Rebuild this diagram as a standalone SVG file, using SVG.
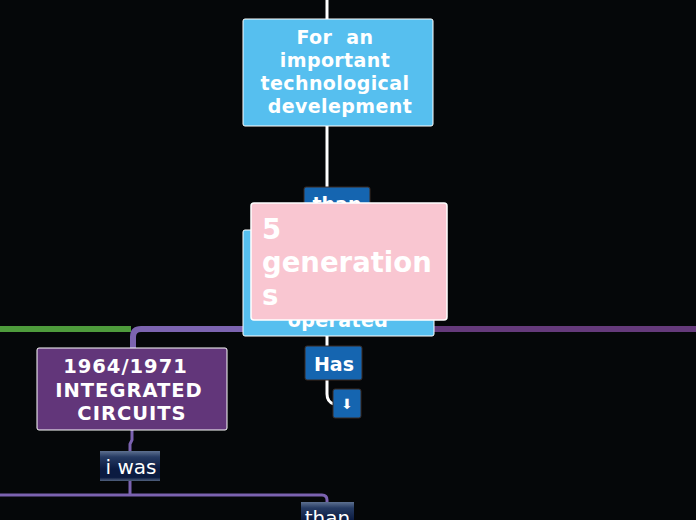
<svg xmlns="http://www.w3.org/2000/svg" width="696" height="520" viewBox="0 0 696 520">
<defs>
<linearGradient id="gl" x1="0" y1="0" x2="0" y2="1">
<stop offset="0" stop-color="#5d7090"/>
<stop offset="0.2" stop-color="#263b63"/>
<stop offset="0.6" stop-color="#0b1b41"/>
<stop offset="0.88" stop-color="#0b1b41"/>
<stop offset="1" stop-color="#52627f"/>
</linearGradient>
<style>
.b{font-family:"DejaVu Sans",Verdana,sans-serif;font-weight:bold;fill:#fff;}
.r{font-family:"DejaVu Sans",Verdana,sans-serif;fill:#fff;}
.wl{fill:none;stroke:#fff;stroke-width:3;}
.pl{fill:none;stroke:#7b62b0;stroke-width:3;}
.dk{fill:#1565b0;stroke:#3a2a22;stroke-width:1;}
</style>
</defs>
<rect width="696" height="520" fill="#050709"/>
<g id="connectors">
<path class="wl" d="M327 0V19"/>
<path class="wl" d="M327 126V187"/>
<path class="wl" d="M327 336V346"/>
<path class="wl" d="M327 380V394Q327 402 334 404"/>
<path d="M0 329H131" stroke="#4e9b3c" stroke-width="6" fill="none"/>
<path d="M243 329H141Q133 329 133 337V348" stroke="#7c64b0" stroke-width="6" fill="none"/>
<path d="M434 329H696" stroke="#653a7b" stroke-width="6" fill="none"/>
<path class="pl" d="M132 430V440L130 444V452"/>
<path class="pl" d="M130 481V495"/>
<path class="pl" d="M0 495H322Q327 495 327 500V503"/>
</g>
<g id="n-title">
<rect x="243" y="19" width="190" height="107" rx="2" fill="#56bfef" stroke="#fff" stroke-width="1"/>
<text class="b" font-size="19" letter-spacing="0.4" text-anchor="middle" xml:space="preserve"><tspan x="335" y="44">For  an</tspan><tspan x="335" y="67">important</tspan><tspan x="335" y="90">technological</tspan><tspan x="340" y="113">develepment</tspan></text>
</g>
<g id="n-than1">
<rect class="dk" x="304" y="187" width="66" height="34" rx="2"/>
<text class="b" font-size="19" text-anchor="middle" x="337" y="211">than</text>
</g>
<g id="n-operated">
<rect x="243" y="230" width="191" height="106" rx="2" fill="#56bfef" stroke="#fff" stroke-width="1"/>
<text class="b" font-size="19" letter-spacing="0.4" text-anchor="middle" x="338" y="327">operated</text>
</g>
<g id="n-5gen">
<rect x="251" y="203" width="196" height="117" rx="3" fill="#f9c6d1" stroke="#fff" stroke-width="1.5"/>
<text class="b" font-size="27.5"><tspan x="262" y="239">5</tspan><tspan x="262" y="272">generation</tspan><tspan x="262" y="305">s</tspan></text>
</g>
<g id="n-has">
<rect class="dk" x="305" y="346" width="57" height="34" rx="2"/>
<text class="b" font-size="19" text-anchor="middle" x="334" y="371">Has</text>
</g>
<g id="n-arrow">
<rect class="dk" x="333" y="389" width="28" height="29" rx="2"/>
<text class="r" font-size="14" text-anchor="middle" x="347" y="409">⬇</text>
</g>
<g id="n-ic">
<rect x="37" y="348" width="190" height="82" rx="2" fill="#62367a" stroke="#fff" stroke-width="1"/>
<text class="b" font-size="19.5" letter-spacing="1" text-anchor="middle"><tspan x="125.5" y="373">1964/1971</tspan><tspan x="129" y="397">INTEGRATED</tspan><tspan x="132" y="420">CIRCUITS</tspan></text>
</g>
<g id="n-iwas">
<rect x="100" y="451" width="60" height="30" fill="url(#gl)"/>
<text class="r" font-size="20" text-anchor="middle" x="131" y="474">i was</text>
</g>
<g id="n-than2">
<rect x="301" y="502" width="53" height="30" fill="url(#gl)"/>
<text class="r" font-size="20" text-anchor="middle" x="327.5" y="525">than</text>
</g>
</svg>
